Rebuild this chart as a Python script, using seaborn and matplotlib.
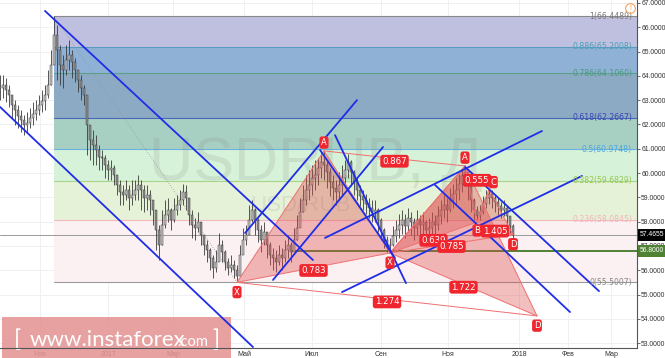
import numpy as np
import matplotlib
matplotlib.use("Agg")
import matplotlib.pyplot as plt
import matplotlib.transforms as mtransforms
from matplotlib.patches import Rectangle, Polygon
import seaborn as sns

sns.set_style("white")
plt.rcParams['font.family'] = ['Liberation Sans', 'DejaVu Sans']

# ---------------- data ----------------
closes = [63.50, 63.62, 63.42, 63.21, 62.80, 62.59, 62.35, 62.18, 61.98, 62.06,
          62.26, 62.43, 62.59, 62.80, 62.97, 63.21, 63.62, 64.44, 65.68, 65.06,
          64.44, 64.24, 64.65, 64.86, 64.57, 64.24, 63.83, 63.50, 63.21, 61.98,
          61.36, 61.15, 60.95, 60.66, 60.62, 60.33, 60.12, 60.21, 59.92, 59.51,
          59.22, 59.09, 59.30, 58.97, 59.09, 59.30, 59.51, 59.30, 58.97, 59.09,
          58.89, 58.48, 57.65, 57.04, 57.86, 58.27, 58.48, 58.07, 58.48, 58.68,
          58.89, 59.22, 58.97, 58.27, 57.86, 57.74, 57.98, 57.45, 57.04, 56.83,
          56.50, 56.09, 56.34, 57.04, 56.75, 56.34, 56.09, 56.21, 56.01, 55.76,
          56.63, 57.24, 57.45, 58.07, 58.48, 58.07, 57.65, 57.24, 57.57, 57.04,
          56.63, 56.50, 56.34, 56.63, 56.50, 56.83, 57.04, 56.75, 57.24, 57.74,
          58.40, 58.89, 59.30, 59.51, 59.79, 59.92, 60.21, 60.45, 60.33, 60.04,
          59.63, 59.38, 59.22, 59.51, 59.79, 60.12, 60.45, 60.04, 59.63, 59.30,
          59.05, 58.89, 58.72, 58.56, 58.40, 58.48, 58.07, 57.65, 57.24, 57.00,
          57.04, 57.41, 57.65, 57.86, 58.07, 57.82, 58.15, 57.98, 57.74, 58.07,
          57.86, 57.98, 57.65, 57.74, 57.98, 57.86, 58.23, 58.48, 58.68, 58.48,
          58.89, 59.14, 59.30, 59.55, 59.88, 60.04, 59.47, 58.89, 58.48, 58.23,
          58.40, 58.72, 58.97, 59.14, 58.97, 58.81, 58.64, 58.48, 58.56, 58.23,
          57.82, 57.47]
highs = [64.03, 64.03, 63.91, 63.62, 63.21, 63.00, 62.80, 62.59, 62.39, 62.51,
         62.67, 62.92, 63.00, 63.21, 63.42, 63.62, 64.24, 65.06, 66.45, 66.09,
         65.27, 64.86, 65.27, 65.47, 65.06, 64.73, 64.24, 64.03, 63.62, 62.39,
         61.98, 61.77, 61.56, 61.15, 60.95, 60.74, 60.53, 60.53, 60.33, 59.92,
         59.71, 59.51, 59.71, 59.51, 59.71, 59.71, 59.92, 59.71, 59.51, 59.51,
         59.30, 58.89, 58.27, 57.86, 58.48, 58.89, 58.97, 58.56, 58.97, 59.09,
         59.30, 59.55, 59.51, 58.89, 58.48, 58.15, 58.40, 57.98, 57.45, 57.24,
         56.91, 56.63, 56.83, 57.53, 57.24, 56.83, 56.50, 56.63, 56.42, 56.21,
         57.04, 57.74, 57.86, 58.68, 58.89, 58.56, 58.15, 57.86, 57.98, 57.45,
         57.16, 56.91, 56.83, 57.04, 56.91, 57.24, 57.45, 57.16, 57.74, 58.27,
         58.97, 59.51, 59.92, 60.12, 60.33, 60.53, 60.62, 60.86, 60.91, 60.53,
         60.21, 59.92, 59.71, 60.04, 60.33, 60.53, 60.78, 60.53, 60.12, 59.79,
         59.51, 59.30, 59.14, 58.97, 58.89, 58.89, 58.56, 58.15, 57.74, 57.41,
         57.33, 57.82, 58.07, 58.31, 58.48, 58.31, 58.56, 58.40, 58.15, 58.48,
         58.27, 58.40, 58.07, 58.15, 58.40, 58.27, 58.64, 58.89, 59.09, 58.97,
         59.38, 59.55, 59.79, 59.96, 60.21, 60.29, 59.96, 59.38, 58.97, 58.64,
         58.68, 59.05, 59.30, 59.34, 59.30, 59.09, 58.97, 58.81, 58.89, 58.64,
         58.23, 57.90]
lows = [63.00, 63.09, 62.92, 62.72, 62.26, 61.98, 61.85, 61.69, 61.56, 61.69,
        61.85, 61.98, 62.18, 62.39, 62.51, 62.59, 63.09, 63.62, 64.65, 63.83,
        63.62, 63.50, 64.03, 64.24, 63.91, 63.74, 63.33, 63.00, 62.80, 60.74,
        60.53, 60.33, 60.33, 60.12, 60.12, 59.79, 59.71, 59.71, 59.51, 59.09,
        58.68, 58.68, 58.89, 58.48, 58.68, 58.89, 58.89, 58.48, 58.40, 58.48,
        58.27, 57.86, 56.83, 56.42, 57.04, 57.74, 57.98, 57.65, 57.98, 58.27,
        58.48, 58.68, 58.48, 57.86, 57.33, 57.24, 57.57, 57.04, 56.63, 56.34,
        56.01, 55.68, 55.93, 56.50, 56.34, 56.01, 55.80, 55.93, 55.68, 55.50,
        56.21, 56.83, 57.04, 57.57, 57.98, 57.45, 57.16, 56.75, 57.04, 56.50,
        56.21, 56.01, 55.93, 56.21, 56.01, 56.34, 56.50, 56.34, 56.83, 57.24,
        57.86, 58.40, 58.68, 58.89, 59.09, 59.30, 59.51, 59.79, 59.71, 59.38,
        59.05, 58.89, 58.68, 58.89, 59.09, 59.38, 59.79, 59.47, 59.09, 58.89,
        58.64, 58.48, 58.31, 58.15, 57.98, 57.98, 57.57, 57.24, 56.91, 56.75,
        56.71, 57.00, 57.16, 57.33, 57.49, 57.33, 57.57, 57.45, 57.24, 57.45,
        57.33, 57.45, 57.24, 57.24, 57.45, 57.33, 57.65, 57.90, 58.15, 57.98,
        58.40, 58.56, 58.68, 58.89, 59.22, 59.47, 58.89, 58.40, 58.07, 57.98,
        58.07, 58.31, 58.56, 58.72, 58.56, 58.40, 58.27, 58.15, 58.23, 57.82,
        57.49, 57.24]

tick_pos = [13.33, 36.0, 57.67, 81.33, 104.0, 127.0, 149.33, 173.0, 189.33, 203.67]
tick_labels = ["Ноя", "2017", "Мар", "Май", "Июл", "Сен", "Ноя", "2018", "Фев", "Мар"]
price_ticks = list(range(53, 68))

fib_ratios = ["1", "0.886", "0.786", "0.618", "0.5", "0.382", "0.236", "0"]
fib_prices = [66.4489, 65.2008, 64.1060, 62.2667, 60.9748, 59.6829, 58.0845, 55.5007]
fib_start = 18

# XABCD patterns (bar index, price)
p1_x = [79, 108, 130, 155, 179]
p1_y = [55.50, 60.91, 56.71, 60.29, 54.12]
p1_ratios = ["0.783", "0.867", "1.722", "1.274"]   # XB, AC, BD, XD
p1_letters = ["X", "A", "", "", "D"]
p2_x = [130, 155, 159, 163, 171]
p2_y = [56.71, 60.29, 57.98, 59.34, 57.47]
p2_ratios = ["0.639", "0.555", "1.405", "0.785"]
p2_letters = ["X", "A", "B", "C", "D"]

# blue trend lines: x0, y0, x1, y1
line_x0 = [15.0, 0.0, 81.67, 111.67, 106.67, 91.0, 108.33, 114.0, 145.0, 155.0]
line_y0 = [66.67, 62.72, 57.53, 61.56, 60.95, 55.60, 57.33, 55.10, 59.51, 60.25]
line_x1 = [104.33, 84.33, 119.0, 135.33, 131.67, 127.67, 180.67, 194.0, 190.0, 199.67]
line_y1 = [56.42, 52.84, 63.00, 55.47, 56.50, 61.07, 61.73, 59.88, 54.28, 55.14]

last_price = 57.4655
support_price = 56.80
support_start = 97

# ---------------- figure ----------------
W, H = 665, 358
fig = plt.figure(figsize=(W / 100, H / 100), dpi=100)
ax = fig.add_axes([0, 10 / H, 637 / W, 348 / H])
XMAX = 637 / 3
ax.set_xlim(0, XMAX)
ax.set_ylim(52.80, 67.12)

# grid
for p in price_ticks:
    ax.axhline(p, color='#eef0f4', lw=0.7, zorder=0.2)
for t in tick_pos:
    ax.axvline(t, color='#eef0f4', lw=0.7, zorder=0.2)

# Fibonacci bands
band_colors = ['#bfbfe0', '#8fb1d6', '#8caac4', '#a8d0c2', '#d6f2d8', '#e6f2d8', '#fbf0f2']
line_colors = ['#8a8a8a', '#5a9cc0', '#5aa08a', '#4a66b8', '#6ab0e0', '#a8d48a', '#f4b8c0', '#9a9a9a']
text_colors = ['#7a7a7a', '#4aa0b8', '#4a9a82', '#3848b0', '#4aa8e0', '#98c850', '#f2b4bc', '#8a8a8a']
for i in range(len(fib_prices) - 1):
    ax.add_patch(Rectangle((fib_start, fib_prices[i + 1]), XMAX - fib_start,
                           fib_prices[i] - fib_prices[i + 1], fc=band_colors[i],
                           ec='none', zorder=0.5))
for i, p in enumerate(fib_prices):
    ax.plot([fib_start, XMAX], [p, p], color=line_colors[i], lw=0.8, zorder=0.6)
    ax.text(210.7, p, f"{fib_ratios[i]}({p:.4f})", color=text_colors[i], fontsize=5.6,
            ha='right', va='center', zorder=5, family=['DejaVu Sans'])
# fib trend (dotted)
ax.plot([fib_start, p1_x[0]], [fib_prices[0], fib_prices[-1]], color='#9a9a9a',
        lw=0.6, ls=(0, (1, 2)), zorder=0.7)

# watermark
ax.text(105.3, 59.71, "USDRUB, Д", fontsize=44, color='#808080', alpha=0.16,
        ha='center', va='baseline', zorder=1.0)
ax.text(100, 58.44, "USD/RUB", fontsize=16, color='#808080', alpha=0.16,
        ha='center', va='baseline', zorder=1.0)

# horizontal price lines
ax.axhline(last_price, color='#9a9a9a', lw=0.7, zorder=1.1)
ax.plot([support_start, XMAX], [support_price, support_price], color='#4f8233',
        lw=1.4, zorder=1.1)

# candles
opens = [closes[0]] + closes[:-1]
xs = np.arange(len(closes))
ax.vlines(xs, lows, highs, color='#3a3a3a', lw=0.6, zorder=2)
for x, o, c in zip(xs, opens, closes):
    fc = '#c9c9c9' if c >= o else '#8f8f8f'
    ax.add_patch(Rectangle((x - 0.32, min(o, c)), 0.64, max(abs(c - o), 0.02),
                           fc=fc, ec='#3a3a3a', lw=0.35, zorder=2.05))

# harmonic patterns
pat_fc = '#dd4b4b'
pat_ec = '#ef7070'
box_red = '#f0262e'


def draw_pattern(px, py, ratios, letters):
    X, A, B, C, D = list(zip(px, py))
    ax.add_patch(Polygon([X, A, B], closed=True, fc=pat_fc, alpha=0.36, ec='none', zorder=2.3))
    ax.add_patch(Polygon([B, C, D], closed=True, fc=pat_fc, alpha=0.36, ec='none', zorder=2.3))
    for P, Q in [(X, A), (A, B), (B, C), (C, D), (X, B), (A, C), (B, D), (X, D)]:
        ax.plot([P[0], Q[0]], [P[1], Q[1]], color=pat_ec, lw=0.7, zorder=2.4)
    for (P, Q), s in zip([(X, B), (A, C), (B, D), (X, D)], ratios):
        ax.annotate(s, ((P[0] + Q[0]) / 2, (P[1] + Q[1]) / 2), xytext=(0, -2),
                    textcoords='offset points', ha='center', va='center', color='white',
                    fontsize=6.2, zorder=6, family=['DejaVu Sans'],
                    bbox=dict(boxstyle='round,pad=0.22,rounding_size=0.3', fc=box_red, ec='none'))
    offs = [(0, -7), (0, 6), (0, -6), (3, 5), (0, -7)]
    for P, s, o in zip([X, A, B, C, D], letters, offs):
        if s:
            ax.annotate(s, P, xytext=o, textcoords='offset points', ha='center', va='center',
                        color='white', fontsize=6, zorder=6, family=['DejaVu Sans'],
                        bbox=dict(boxstyle='round,pad=0.2,rounding_size=0.3', fc=box_red, ec='none'))


draw_pattern(p1_x, p1_y, p1_ratios, p1_letters)
draw_pattern(p2_x, p2_y, p2_ratios, p2_letters)

# blue trend lines
for x0, y0, x1, y1 in zip(line_x0, line_y0, line_x1, line_y1):
    sns.lineplot(x=[x0, x1], y=[y0, y1], ax=ax, color='#1f2de8', lw=1.3, zorder=3)

# axes styling
for s in ['top', 'left']:
    ax.spines[s].set_visible(False)
for s in ['right', 'bottom']:
    ax.spines[s].set_color('#555555')
    ax.spines[s].set_linewidth(0.8)
ax.yaxis.tick_right()
ax.set_yticks(price_ticks)
ax.set_yticklabels([f"{p:.4f}" for p in price_ticks])
ax.set_xticks(tick_pos)
ax.set_xticklabels(tick_labels)
ax.tick_params(axis='y', length=2, width=0.6, color='#555555', labelsize=4.9,
               labelcolor='#333333', pad=1.0, right=True, left=False)
ax.tick_params(axis='x', length=2, width=0.6, color='#555555', labelsize=5.0,
               labelcolor='#333333', pad=0.5)
ax.set_xlabel('')
ax.set_ylabel('')

# price boxes on the right axis
trans = mtransforms.blended_transform_factory(ax.transAxes, ax.transData)
ax.text(1.005, last_price, f"{last_price:.4f}", transform=trans, ha='left', va='center',
        color='white', fontsize=4.9, clip_on=False, zorder=7,
        bbox=dict(boxstyle='square,pad=0.35', fc='black', ec='none'))
ax.text(1.005, support_price, f"{support_price:.4f}", transform=trans, ha='left', va='center',
        color='white', fontsize=4.9, clip_on=False, zorder=7,
        bbox=dict(boxstyle='square,pad=0.35', fc='#4f8233', ec='none'))

# small alert icon
ax.plot([630 / 637], [1 - 8 / 348], transform=ax.transAxes, marker='o', ms=7,
        mfc='none', mec='#f5a35e', mew=0.8, clip_on=False, zorder=7)
ax.text(630 / 637, 1 - 8 / 348, "!", transform=ax.transAxes, color='#f5a35e',
        fontsize=5, ha='center', va='center', zorder=7)

# instaforex banner
ax.add_patch(Rectangle((2 / W, 0), 229 / W, 41 / H, transform=fig.transFigure,
                       fc='#e59494', alpha=0.88, ec='none', clip_on=False, zorder=1.2))
bfam = ['Lato', 'Liberation Sans', 'DejaVu Sans']
ax.text(14 / W, 18 / H, "[", transform=fig.transFigure, color='white', fontsize=17,
        ha='left', va='center', clip_on=False, zorder=1.3, family=bfam)
ax.text(30 / W, 18 / H, "www.instaforex", transform=fig.transFigure, color='white',
        fontsize=16, ha='left', va='center', clip_on=False, zorder=1.3, family=bfam)
ax.text(177 / W, 15.5 / H, ".com", transform=fig.transFigure, color='white',
        fontsize=10.5, ha='left', va='center', clip_on=False, zorder=1.3, family=bfam)
ax.text(212 / W, 18 / H, "]", transform=fig.transFigure, color='white', fontsize=17,
        ha='left', va='center', clip_on=False, zorder=1.3, family=bfam)

fig.savefig("out.png", dpi=100)
